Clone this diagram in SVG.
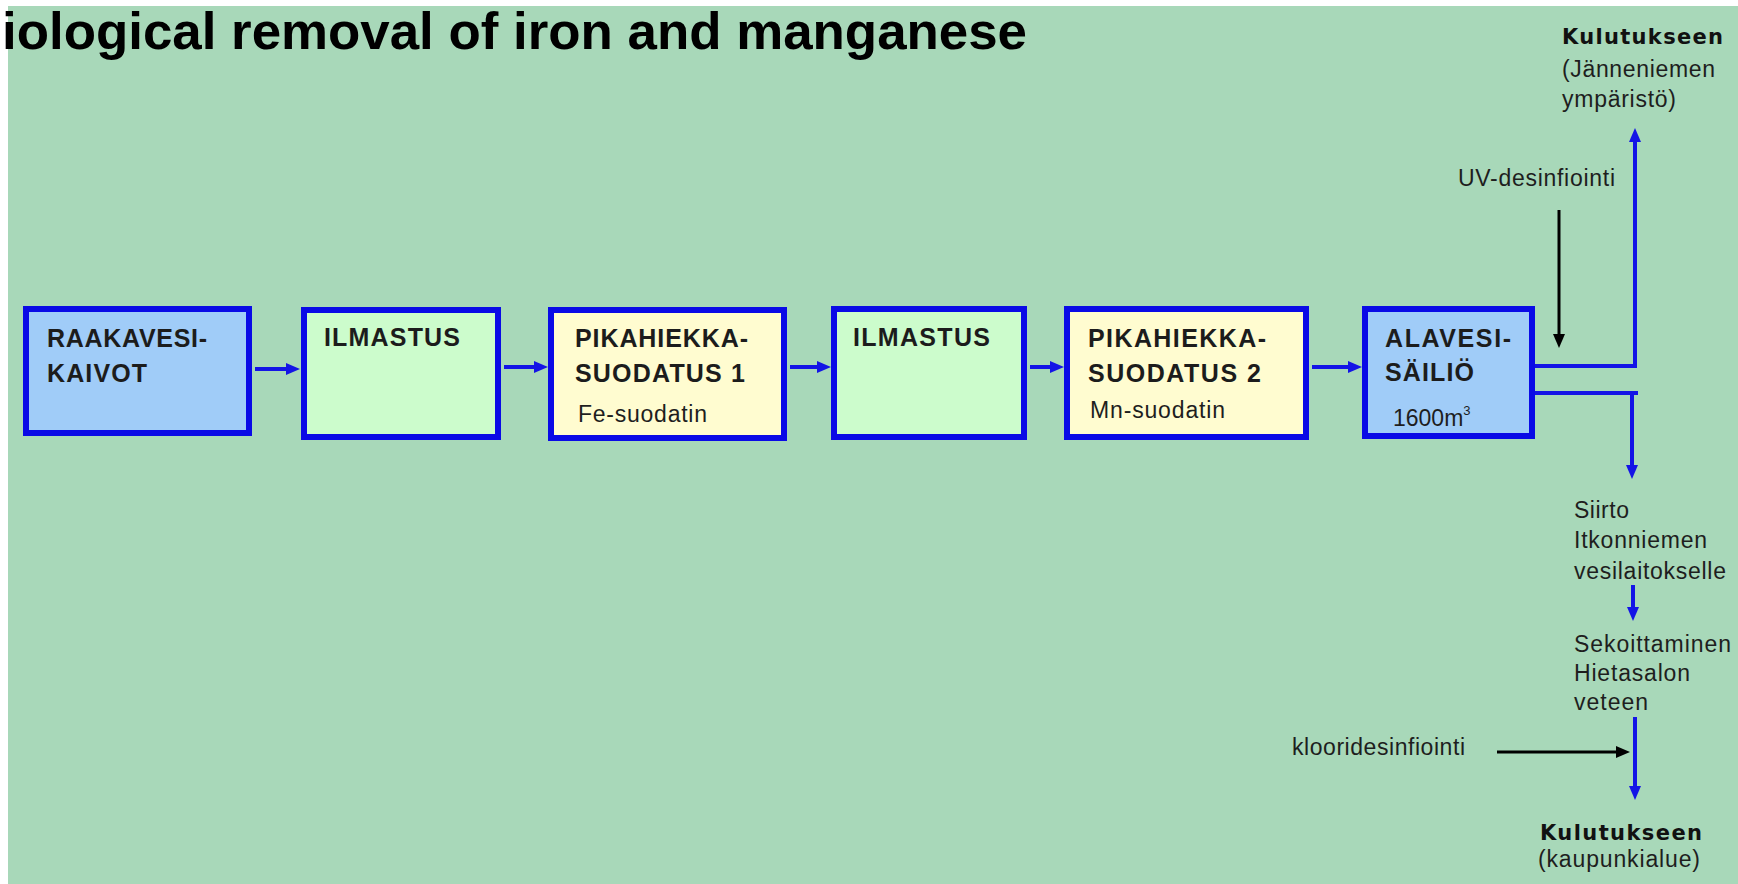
<svg xmlns="http://www.w3.org/2000/svg" width="1738" height="884" viewBox="0 0 1738 884">
<defs>
<style>
.box{stroke:#0a0ae6;stroke-width:6}
.blue{fill:#a0ccf8}
.green{fill:#ccfccc}
.yellow{fill:#fffcd0}
.bt{font-family:"Liberation Sans",Arial,sans-serif;font-weight:bold;font-size:25px;fill:#1c1c1c}
.lt{font-family:"Liberation Sans",Arial,sans-serif;font-size:23px;fill:#1e1e1e}
.kt{font-family:"DejaVu Sans",sans-serif;font-weight:bold;font-size:21px;fill:#111}
.flow{fill:none;stroke:#1414e6;stroke-width:4}
.blk{fill:none;stroke:#000;stroke-width:3}
</style>
<marker id="ab" markerUnits="userSpaceOnUse" markerWidth="14" markerHeight="14" viewBox="0 0 14 14" refX="9" refY="7" orient="auto"><path d="M0,1 L14,7 L0,13 Z" fill="#1414e6"/></marker>
<marker id="ak" markerUnits="userSpaceOnUse" markerWidth="14" markerHeight="14" viewBox="0 0 14 14" refX="9" refY="7" orient="auto"><path d="M0,1 L14,7 L0,13 Z" fill="#000"/></marker>
</defs>
<rect x="0" y="0" width="1738" height="884" fill="#fff"/>
<rect x="8" y="6" width="1730" height="878" fill="#a8d8b9"/>
<text x="2" y="49" font-family="Liberation Sans, Arial, sans-serif" font-weight="bold" font-size="52" fill="#000" textLength="1025" lengthAdjust="spacingAndGlyphs">iological removal of iron and manganese</text>

<g id="connectors">
<line class="flow" x1="255" y1="369" x2="295" y2="369" marker-end="url(#ab)"/>
<line class="flow" x1="504" y1="367" x2="543" y2="367" marker-end="url(#ab)"/>
<line class="flow" x1="790" y1="367" x2="826" y2="367" marker-end="url(#ab)"/>
<line class="flow" x1="1030" y1="367" x2="1059" y2="367" marker-end="url(#ab)"/>
<line class="flow" x1="1312" y1="367" x2="1357" y2="367" marker-end="url(#ab)"/>
<polyline class="flow" stroke-width="5" points="1535,366 1635,366 1635,133" marker-end="url(#ab)"/>
<line class="flow" stroke-width="10" x1="1535" y1="393" x2="1638" y2="393"/>
<line class="flow" stroke-width="5" x1="1632" y1="393" x2="1632" y2="474" marker-end="url(#ab)"/>
<line class="blk" x1="1559" y1="210" x2="1559" y2="343" marker-end="url(#ak)"/>
<line class="flow" x1="1633" y1="585" x2="1633" y2="616" marker-end="url(#ab)"/>
<line class="flow" x1="1635" y1="717" x2="1635" y2="795" marker-end="url(#ab)"/>
<line class="blk" x1="1497" y1="752" x2="1625" y2="752" marker-end="url(#ak)"/>
</g>

<g id="raakavesikaivot">
<rect class="box blue" x="26" y="309" width="223" height="124"/>
<text class="bt" x="47" y="347" textLength="160">RAAKAVESI-</text>
<text class="bt" x="47" y="382" textLength="100">KAIVOT</text>
</g>
<g id="ilmastus1">
<rect class="box green" x="304" y="310" width="194" height="127"/>
<text class="bt" x="324" y="346" textLength="136">ILMASTUS</text>
</g>
<g id="pikahiekka1">
<rect class="box yellow" x="551" y="310" width="233" height="128"/>
<text class="bt" x="575" y="347" textLength="173">PIKAHIEKKA-</text>
<text class="bt" x="575" y="382" textLength="170">SUODATUS 1</text>
<text class="lt" x="578" y="422" textLength="129">Fe-suodatin</text>
</g>
<g id="ilmastus2">
<rect class="box green" x="834" y="309" width="190" height="128"/>
<text class="bt" x="853" y="346" textLength="137">ILMASTUS</text>
</g>
<g id="pikahiekka2">
<rect class="box yellow" x="1067" y="309" width="239" height="128"/>
<text class="bt" x="1088" y="347" textLength="178">PIKAHIEKKA-</text>
<text class="bt" x="1088" y="382" textLength="173">SUODATUS 2</text>
<text class="lt" x="1090" y="418" textLength="135">Mn-suodatin</text>
</g>
<g id="alavesisailio">
<rect class="box blue" x="1365" y="309" width="167" height="127"/>
<text class="bt" x="1385" y="347" textLength="126">ALAVESI-</text>
<text class="bt" x="1385" y="381" textLength="89">SÄILIÖ</text>
<text class="lt" x="1393" y="426">1600m<tspan dy="-11" font-size="13">3</tspan></text>
</g>

<g id="kulutus-jannenniemi">
<text class="kt" x="1562" y="44" textLength="161">Kulutukseen</text>
<text class="lt" x="1562" y="77" textLength="153">(Jänneniemen</text>
<text class="lt" x="1562" y="107" textLength="114">ympäristö)</text>
</g>
<g id="uv">
<text class="lt" x="1458" y="186" textLength="157">UV-desinfiointi</text>
</g>
<g id="siirto">
<text class="lt" x="1574" y="518" textLength="55">Siirto</text>
<text class="lt" x="1574" y="548" textLength="133">Itkonniemen</text>
<text class="lt" x="1574" y="579" textLength="152">vesilaitokselle</text>
</g>
<g id="sekoittaminen">
<text class="lt" x="1574" y="652" textLength="157">Sekoittaminen</text>
<text class="lt" x="1574" y="681" textLength="116">Hietasalon</text>
<text class="lt" x="1574" y="710" textLength="74">veteen</text>
</g>
<g id="kloori">
<text class="lt" x="1292" y="755" textLength="173">klooridesinfiointi</text>
</g>
<g id="kulutus-kaupunki">
<text class="kt" x="1540" y="840" textLength="162">Kulutukseen</text>
<text class="lt" x="1538" y="867" textLength="162">(kaupunkialue)</text>
</g>
</svg>
